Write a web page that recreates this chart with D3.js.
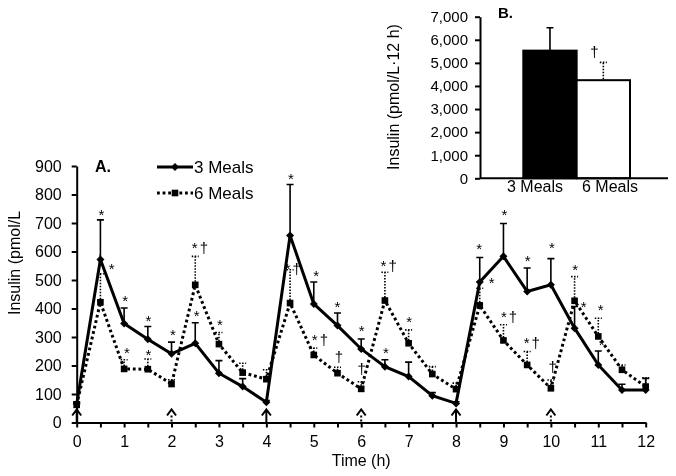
<!DOCTYPE html>
<html><head><meta charset="utf-8">
<script src="https://cdn.jsdelivr.net/npm/d3@7"></script>
<style>body{margin:0;background:#fff}svg{display:block;font-family:"Liberation Sans",Arial,sans-serif;will-change:transform}</style>
</head><body><svg id="c" width="676" height="476"></svg>
<script>
// ---- data ----
const times   = [0,0.5,1,1.5,2,2.5,3,3.5,4,4.5,5,5.5,6,6.5,7,7.5,8,8.5,9,9.5,10,10.5,11,11.5,12];
const meals3  = [65,572,347,292,241,278,173,126,71,656,416,340,258,196,161,94,67,493,583,460,483,331,202,114,114];
const meals3E = [8,139,55,45,41,72,44,28,6,179,77,44,35,24,51,11,6,86,115,82,92,76,49,20,41];
const meals6  = [62,422,188,187,135,483,275,175,152,419,237,173,118,428,278,170,117,411,288,202,120,427,302,185,126];
const meals6E = [8,100,32,36,15,100,41,33,33,117,24,21,25,99,47,26,21,60,55,47,29,85,64,17,31];
const seriesNames = ["3 Meals","6 Meals"];
const xTickLabels = [0,1,2,3,4,5,6,7,8,9,10,11,12];
const yTickLabels = [0,100,200,300,400,500,600,700,800,900];
const mealTimes3 = [0,4,8];
const mealTimes6 = [2,6,10];
// significance marks: time, value, text
const markT = [0.52,0.74,1.02,1.51,1.06,1.51,2.03,2.53,2.62,3.02,4.52,4.58,5.05,5.5,6.01,5.15,5.53,6.01,6.6,6.52,7.01,8.49,8.75,9.02,9.51,10.02,9.14,9.62,10.04,10.51,10.69,11.05,11.07];
const markV = [741,550,437,366,257,250,319,386,624,354,866,550,526,416,331,302,229,187,560,257,363,620,501,739,577,624,380,290,194,548,415,405,283];
const markS = ["*","*","*","*","*","*","*","*","*†","*","*","*†","*","*","*","*†","†","†","*†","*","*","*","*","*","*","*","*†","*†","†","*","*","*","*"];
// inset B: AUC
const aucCats = ["3 Meals","6 Meals"];
const aucVals = [5530,4250];
const aucErr  = [990,770];
const aucTickLabels = [0,1000,2000,3000,4000,5000,6000,7000];

// ---- drawing ----
const svg = d3.select("#c");
const x = d3.scaleLinear().domain([0,12]).range([76.7,645.7]);
const y = d3.scaleLinear().domain([0,900]).range([422.5,166]);

const d3s = times.map((t,i)=>({t,v:meals3[i],e:meals3E[i]}));
const d6s = times.map((t,i)=>({t,v:meals6[i],e:meals6E[i]}));
const line = d3.line().x(d=>x(d.t)).y(d=>y(d.v));

// axes
const yAx = svg.append("g").attr("transform",`translate(${x(0)},0)`)
  .call(d3.axisLeft(y).tickValues(yTickLabels).tickSize(5).tickPadding(10).tickSizeOuter(0));
const halfTicks = d3.range(0,12.01,0.5);
const xAx = svg.append("g").attr("transform",`translate(0,${y(0)})`)
  .call(d3.axisBottom(x).tickValues(halfTicks).tickSize(5).tickPadding(8).tickSizeOuter(0)
    .tickFormat(d=>xTickLabels.includes(d)?d:""));
[yAx,xAx].forEach(g=>{
  g.select(".domain").attr("stroke","#000").attr("stroke-width",2);
  g.selectAll(".tick line").attr("stroke","#000").attr("stroke-width",2);
  g.selectAll("text").attr("font-size",16).attr("fill","#000").attr("font-family","Liberation Sans, Arial, sans-serif");
});

// axis titles
svg.append("text").attr("transform",`translate(19.5,263) rotate(-90)`).attr("text-anchor","middle")
  .attr("font-size",16).text("Insulin (pmol/L");
svg.append("text").attr("x",(x(0)+x(12))/2).attr("y",466).attr("text-anchor","middle")
  .attr("font-size",16).text("Time (h)");
svg.append("text").attr("x",95).attr("y",172).attr("font-size",16).attr("font-weight","bold").text("A.");

// meal arrows
const a0 = y(0);
mealTimes3.forEach(t=>{
  const cx = x(t);
  svg.append("path").attr("d",`M${cx},${a0}V${a0-13}M${cx-4.5},${a0-7}L${cx},${a0-13}L${cx+4.5},${a0-7}`)
    .attr("fill","none").attr("stroke","#000").attr("stroke-width",2);
});
mealTimes6.forEach(t=>{
  const cx = x(t);
  svg.append("path").attr("d",`M${cx-4.5},${a0-7}L${cx},${a0-13}L${cx+4.5},${a0-7}`)
    .attr("fill","none").attr("stroke","#000").attr("stroke-width",2);
  svg.append("path").attr("d",`M${cx},${a0-1}V${a0-9}`)
    .attr("fill","none").attr("stroke","#000").attr("stroke-width",2).attr("stroke-dasharray","2,2");
});

// 6 meals error bars (dotted)
const eb6 = svg.append("g").attr("stroke","#000").attr("stroke-width",1.6).attr("stroke-dasharray","1.5,1.5").attr("fill","none");
d6s.forEach(d=>{
  eb6.append("path").attr("d",`M${x(d.t)},${y(d.v)}V${y(d.v+d.e)}M${x(d.t)-3.5},${y(d.v+d.e)}H${x(d.t)+3.5}`);
});
// 6 meals line
svg.append("path").datum(d6s).attr("d",line).attr("fill","none").attr("stroke","#000")
  .attr("stroke-width",3).attr("stroke-dasharray","2.8,2.8");
svg.append("g").selectAll("path").data(d6s).join("path")
  .attr("d",d3.symbol(d3.symbolSquare,44)).attr("transform",d=>`translate(${x(d.t)},${y(d.v)})`).attr("fill","#000");

// 3 meals error bars (solid)
const eb3 = svg.append("g").attr("stroke","#000").attr("stroke-width",1.6).attr("fill","none");
d3s.forEach(d=>{
  eb3.append("path").attr("d",`M${x(d.t)},${y(d.v)}V${y(d.v+d.e)}M${x(d.t)-3.5},${y(d.v+d.e)}H${x(d.t)+3.5}`);
});
svg.append("path").datum(d3s).attr("d",line).attr("fill","none").attr("stroke","#000").attr("stroke-width",3);
svg.append("g").selectAll("path").data(d3s).join("path")
  .attr("d",d3.symbol(d3.symbolSquare,32)).attr("transform",d=>`translate(${x(d.t)},${y(d.v)}) rotate(45)`).attr("fill","#000");

// significance marks
svg.append("g").selectAll("text").data(markT.map((t,i)=>({t,v:markV[i],s:markS[i]}))).join("text")
  .attr("x",d=>x(d.t)).attr("y",d=>y(d.v)).attr("text-anchor","middle")
  .attr("dy",d=>d.s.startsWith("*")?"0.55em":"0.3em")
  .attr("font-size",15).attr("letter-spacing",d=>d.s.length>1?2:0).attr("fill","#000").text(d=>d.s);

// legend
const lg = svg.append("g");
lg.append("line").attr("x1",157).attr("x2",193).attr("y1",167).attr("y2",167).attr("stroke","#000").attr("stroke-width",3);
lg.append("path").attr("d",d3.symbol(d3.symbolSquare,32)).attr("transform","translate(175,167) rotate(45)");
lg.append("text").attr("x",194).attr("y",172.5).attr("font-size",17).text(seriesNames[0]);
lg.append("line").attr("x1",157).attr("x2",193).attr("y1",193).attr("y2",193).attr("stroke","#000").attr("stroke-width",3).attr("stroke-dasharray","2.8,2.8");
lg.append("path").attr("d",d3.symbol(d3.symbolSquare,44)).attr("transform","translate(175,193)");
lg.append("text").attr("x",194).attr("y",199).attr("font-size",17).text(seriesNames[1]);

// ---- inset B ----
const yB = d3.scaleLinear().domain([0,7000]).range([178.3,16.7]);
const xB = d3.scaleBand().domain(aucCats).range([523.3,630]).padding(0);
const xBL = d3.scaleBand().domain(aucCats).range([497.5,647.5]).padding(0);
const gB = svg.append("g");
gB.selectAll("rect").data(aucCats).join("rect")
  .attr("x",d=>xB(d)).attr("width",xB.bandwidth())
  .attr("y",(d,i)=>yB(aucVals[i])).attr("height",(d,i)=>yB(0)-yB(aucVals[i]))
  .attr("fill",(d,i)=>i===0?"#000":"#fff").attr("stroke","#000").attr("stroke-width",2);
// error bars
{
  const cx = xB(aucCats[0])+xB.bandwidth()/2;
  gB.append("path").attr("d",`M${cx},${yB(aucVals[0])}V${yB(aucVals[0]+aucErr[0])}M${cx-3.5},${yB(aucVals[0]+aucErr[0])}H${cx+3.5}`)
    .attr("stroke","#000").attr("stroke-width",1.6).attr("fill","none");
  const cx2 = xB(aucCats[1])+xB.bandwidth()/2;
  gB.append("path").attr("d",`M${cx2},${yB(aucVals[1])-1}V${yB(aucVals[1]+aucErr[1])}M${cx2-3.5},${yB(aucVals[1]+aucErr[1])}H${cx2+3.5}`)
    .attr("stroke","#000").attr("stroke-width",1.6).attr("stroke-dasharray","1.5,1.5").attr("fill","none");
  gB.append("text").attr("x",cx2-9).attr("y",yB(aucVals[1]+aucErr[1])).attr("dy","-0.35em").attr("text-anchor","middle")
    .attr("font-size",15).text("†");
}
const yBAx = gB.append("g").attr("transform","translate(480,0)")
  .call(d3.axisLeft(yB).tickValues(aucTickLabels).tickSize(5).tickPadding(7).tickSizeOuter(0).tickFormat(d3.format(",")));
const xBAx = gB.append("g").attr("transform",`translate(0,${yB(0)})`)
  .call(d3.axisBottom(xBL).tickSize(0).tickPadding(2.5));
xBAx.select(".domain").attr("d",`M480,0H668`);
[yBAx,xBAx].forEach(g=>{
  g.select(".domain").attr("stroke","#000").attr("stroke-width",2);
  g.selectAll(".tick line").attr("stroke","#000").attr("stroke-width",2);
  g.selectAll("text").attr("font-size",15).attr("fill","#000").attr("font-family","Liberation Sans, Arial, sans-serif");
});
xBAx.selectAll("text").attr("font-size",16);
gB.append("text").attr("transform","translate(398.5,97) rotate(-90)").attr("text-anchor","middle")
  .attr("font-size",16).text("Insulin (pmol/L·12 h)");
gB.append("text").attr("x",498).attr("y",18).attr("font-size",15).attr("font-weight","bold").text("B.");
</script></body></html>
